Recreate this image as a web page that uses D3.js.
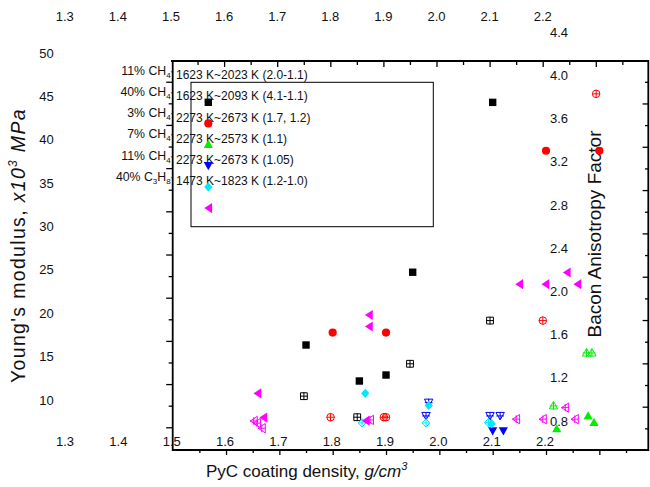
<!DOCTYPE html>
<html><head><meta charset="utf-8">
<script src="https://cdn.jsdelivr.net/npm/d3@7"></script>
<style>
html,body{margin:0;padding:0;background:#fff;}
svg{display:block;font-family:"Liberation Sans",Arial,sans-serif;}
</style></head>
<body>
<svg id="c" width="650" height="487"></svg>
<script>
// ---------------- data ----------------
const seriesNames = ["11% CH4 1623-2023 K","40% CH4 1623-2093 K","3% CH4 2273-2673 K","7% CH4 2273-2573 K","11% CH4 2273-2673 K","40% C3H8 1473-1823 K"];
const seriesColors = ["#000000","#ff0000","#00ee00","#0000ff","#00e8ff","#ff00ff"];
const seriesShapes = ["square","circle","up","down","diamond","left"];

// Young's modulus (filled symbols): density, modulus (x10^3 MPa)
const ymDensity = [
  [1.75, 1.85, 1.90, 1.95, 2.10],
  [1.80, 1.90, 2.20, 2.30],
  [2.22, 2.279, 2.29],
  [2.10, 2.12],
  [1.861, 1.98, 2.098],
  [1.659, 1.670, 1.862, 1.868, 1.868, 2.15, 2.199, 2.239, 2.259]
];
const ymValue = [
  [16.34, 12.19, 12.88, 24.73, 44.31],
  [17.77, 17.77, 38.73, 38.73],
  [6.65, 8.15, 7.39],
  [6.42, 6.42],
  [10.77, 9.38, 7.27],
  [10.77, 7.97, 7.62, 19.80, 18.47, 23.35, 23.35, 24.70, 23.35]
];
// Bacon anisotropy factor (hatched symbols)
const bafDensity = [
  [1.746, 1.846, 1.945, 2.095],
  [1.796, 1.896, 1.900, 2.194, 2.294],
  [2.214, 2.276, 2.286],
  [1.98, 1.975, 2.095, 2.114],
  [1.855, 1.975, 2.092],
  [1.652, 1.658, 1.667, 1.870, 2.144, 2.194, 2.236, 2.254]
];
const bafValue = [
  [1.03, 0.835, 1.33, 1.73],
  [0.835, 0.835, 0.835, 1.73, 3.83],
  [0.94, 1.43, 1.43],
  [0.97, 0.847, 0.847, 0.847],
  [0.782, 0.782, 0.785],
  [0.80, 0.78, 0.733, 0.81, 0.817, 0.817, 0.924, 0.817]
];

const legendPrefix = [["11% CH","4"],["40% CH","4"],["3% CH","4"],["7% CH","4"],["11% CH","4"],["40% C","3","H","8"]];
const legendText = ["1623 K~2023 K (2.0-1.1)","1623 K~2093 K (4.1-1.1)","2273 K~2673 K (1.7, 1.2)","2273 K~2573 K (1.1)","2273 K~2673 K (1.05)","1473 K~1823 K (1.2-1.0)"];

const xTickLabels = [1.3,1.4,1.5,1.6,1.7,1.8,1.9,2.0,2.1,2.2];
const leftTickLabels = [10,15,20,25,30,35,40,45,50];
const rightTickLabels = [0.8,1.2,1.6,2.0,2.4,2.8,3.2,3.6,4.0,4.4];

// ---------------- layout ----------------
const svg = d3.select("#c");
const FR = {l:172.7, r:648.3, t:61, b:450};

const xB = d3.scaleLinear().domain([1.5, 2.4]).range([172.7, 172.7 + 0.9*533.3]);
const xT = d3.scaleLinear().domain([1.5, 2.4]).range([171, 171 + 0.9*531]);
const yL = d3.scaleLinear().domain([10, 50]).range([400, 53]);
const yR = d3.scaleLinear().domain([0.8, 4.4]).range([421, 32.3]);
const yTL = d3.scaleLinear().domain([2.37, 47.4]).range([450, 61]);
const yTR = d3.scaleLinear().domain([0.4, 3.992]).range([450, 61]);

const txt = "#111";

function rng(a,b,s){const o=[];for(let v=a;v<=b+1e-9;v+=s)o.push(+v.toFixed(3));return o;}

function tickAxis(axis, tr){
  const g = svg.append("g").attr("transform", tr).call(axis);
  g.select(".domain").remove();
  g.selectAll("line").attr("stroke","#000").attr("stroke-width",1.3);
  g.selectAll("text").remove();
}
// bottom (outward)
tickAxis(d3.axisBottom(xB).tickValues(rng(1.6,2.3,0.1)).tickSize(5), `translate(0,${FR.b})`);
tickAxis(d3.axisBottom(xB).tickValues(rng(1.55,2.35,0.1)).tickSize(3), `translate(0,${FR.b})`);
// top (inward)
tickAxis(d3.axisBottom(xT).tickValues(rng(1.6,2.3,0.1)).tickSize(6), `translate(0,${FR.t})`);
tickAxis(d3.axisBottom(xT).tickValues(rng(1.55,2.35,0.1)).tickSize(4), `translate(0,${FR.t})`);
// left (outward)
tickAxis(d3.axisLeft(yTL).tickValues(rng(5,45,5)).tickSize(6.5), `translate(${FR.l},0)`);
tickAxis(d3.axisLeft(yTL).tickValues(rng(7.5,42.5,5)).tickSize(4), `translate(${FR.l},0)`);
// right (inward)
tickAxis(d3.axisLeft(yTR).tickValues(rng(0.8,3.6,0.4)).tickSize(5.7), `translate(${FR.r},0)`);
tickAxis(d3.axisLeft(yTR).tickValues(rng(0.6,3.8,0.4)).tickSize(3.3), `translate(${FR.r},0)`);

// frame
svg.append("path")
  .attr("d", `M${xT(1.5)},${FR.t}H${FR.r}V${FR.b}H${FR.l}V${FR.t}`)
  .attr("fill","none").attr("stroke","#000").attr("stroke-width",1.8);

// tick labels
const fmt1 = d3.format(".1f");
svg.append("g").selectAll("text").data(xTickLabels).join("text")
  .attr("x", d=>xT(d)).attr("y", 16.7).attr("dy","0.35em")
  .attr("text-anchor","middle").attr("font-size",13).attr("fill",txt).text(fmt1);
svg.append("g").selectAll("text").data(xTickLabels).join("text")
  .attr("x", d=>xB(d)-1).attr("y", 441.5).attr("dy","0.35em")
  .attr("text-anchor","middle").attr("font-size",13).attr("fill",txt).text(fmt1);
svg.append("g").selectAll("text").data(leftTickLabels).join("text")
  .attr("x", 46.5).attr("y", d=>yL(d)).attr("dy","0.35em")
  .attr("text-anchor","middle").attr("font-size",13).attr("fill",txt).text(d=>d);
svg.append("g").selectAll("text").data(rightTickLabels).join("text")
  .attr("x", 559).attr("y", d=>yR(d)).attr("dy","0.35em")
  .attr("text-anchor","middle").attr("font-size",13).attr("fill",txt).text(fmt1);

// axis titles
const xt = svg.append("text").attr("x",206).attr("y",477).attr("font-size",17).attr("fill",txt);
xt.append("tspan").text("PyC coating density, ");
xt.append("tspan").attr("font-style","italic").text("g/cm");
xt.append("tspan").attr("font-style","italic").attr("font-size",11).attr("dy",-7).text("3");

const yt = svg.append("text").attr("transform","translate(25,245.5) rotate(-90)")
  .attr("text-anchor","middle").attr("font-size",19.5).attr("fill",txt);
yt.append("tspan").text("Young's modulus, ");
yt.append("tspan").attr("font-style","italic").text("x10");
yt.append("tspan").attr("font-style","italic").attr("font-size",12).attr("dy",-8).text("3");
yt.append("tspan").attr("font-style","italic").attr("dy",8).text(" MPa");
// stretch to reference length
(function(){const L = yt.node().getComputedTextLength(); const n = yt.text().length;
  yt.attr("letter-spacing", ((275 - L)/n).toFixed(2));})();

svg.append("text").attr("transform","translate(600.7,234) rotate(-90)")
  .attr("text-anchor","middle").attr("font-size",19).attr("fill",txt).text("Bacon Anisotropy Factor");

// legend
svg.append("rect").attr("x",191).attr("y",82.3).attr("width",242.3).attr("height",144.4)
  .attr("fill","none").attr("stroke","#000").attr("stroke-width",1);
const rowY = d3.scaleLinear().domain([0,1]).range([75, 96.15]);
legendPrefix.forEach((parts,i)=>{
  const t = svg.append("text").attr("x",172).attr("y",rowY(i)).attr("dy","0.35em")
    .attr("text-anchor","end").attr("font-size",12.3).attr("fill",txt);
  parts.forEach((p,k)=>{
    const sub = k%2===1;
    t.append("tspan").attr("font-size", sub?8:12.3).attr("dy", sub?3:(k>0?-3:0)).text(p);
  });
  t.append("tspan").attr("font-size",7).attr("dy",-2).text("'");
  svg.append("text").attr("x",176).attr("y",rowY(i)).attr("dy","0.35em")
    .attr("font-size",12).attr("fill",txt).text(legendText[i]);
});

// symbols
const shapePts = {
  square:[[-3.7,-3.7],[3.7,-3.7],[3.7,3.7],[-3.7,3.7]],
  up:[[0,-4.9],[4.6,3.3],[-4.6,3.3]],
  down:[[0,4.4],[4.6,-3.8],[-4.6,-3.8]],
  diamond:[[0,-4.6],[4.1,0],[0,4.6],[-4.1,0]],
  left:[[-4,0],[3.8,-5.1],[3.8,5.1]]
};
function symType(shape, hatched){
  return {draw(ctx, size){
    const k = Math.sqrt(size)/8;
    if(shape==="circle"){ const r=4.1*k; ctx.moveTo(r,0); ctx.arc(0,0,r,0,2*Math.PI); }
    else { const p = shapePts[shape]; ctx.moveTo(p[0][0]*k,p[0][1]*k);
      for(let j=1;j<p.length;j++) ctx.lineTo(p[j][0]*k,p[j][1]*k); ctx.closePath(); }
    if(hatched){ const h=4.2*k; ctx.moveTo(-h,0); ctx.lineTo(h,0); ctx.moveTo(0,-h); ctx.lineTo(0,h); }
  }};
}
const filledSym = seriesShapes.map(s=>d3.symbol().type(symType(s,false)).size(64));
const hatchSym = seriesShapes.map(s=>d3.symbol().type(symType(s,true)).size(54));

const pts = svg.append("g");
seriesNames.forEach((name,i)=>{
  const hd = bafDensity[i].map((d,j)=>({x:d, y:bafValue[i][j]}));
  pts.append("g").selectAll("path").data(hd).join("path")
    .attr("transform", d=>`translate(${xB(d.x)},${yR(d.y)})`)
    .attr("d", hatchSym[i]()).attr("fill","none").attr("stroke",seriesColors[i]).attr("stroke-width",1);
});
seriesNames.forEach((name,i)=>{
  const fd = ymDensity[i].map((d,j)=>({x:d, y:ymValue[i][j]}));
  pts.append("g").selectAll("path").data(fd).join("path")
    .attr("transform", d=>`translate(${xB(d.x)},${yL(d.y)})`)
    .attr("d", filledSym[i]()).attr("fill",seriesColors[i]);
});
// legend symbols
seriesNames.forEach((name,i)=>{
  svg.append("path").attr("transform",`translate(208.3,${rowY(i+1.29)})`)
    .attr("d", filledSym[i]()).attr("fill",seriesColors[i]);
});
</script>
</body></html>
